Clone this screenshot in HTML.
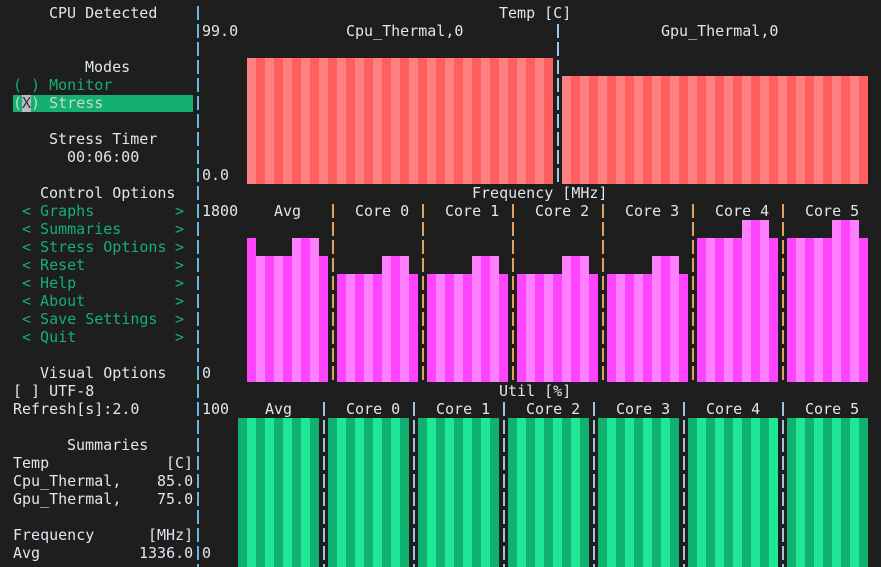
<!DOCTYPE html>
<html><head><meta charset="utf-8">
<style>
html,body{margin:0;padding:0;background:#1e1e1e;width:881px;height:567px;overflow:hidden;position:relative}
.t{position:absolute;font-family:"DejaVu Sans Mono","Liberation Mono",monospace;font-size:15px;line-height:18px;height:18px;white-space:pre;color:#dfe6ee}
.g{color:#13b071}
.b{position:absolute}
</style></head><body>
<div id="root"></div>
<script>
// ---- data ----
const tempSeries = ['Cpu_Thermal,0','Gpu_Thermal,0'];
const tempCpu = Array(34).fill(85);
const tempGpu = Array(34).fill(75);
const tempMax = 99;
const freqCats = ['Avg','Core 0','Core 1','Core 2','Core 3','Core 4','Core 5'];
const freqAvg = [1440,1260,1260,1260,1260,1440,1440,1440,1260];
const freqCore0 = [1080,1080,1080,1080,1080,1260,1260,1260,1080];
const freqCore1 = [1080,1080,1080,1080,1080,1260,1260,1260,1080];
const freqCore2 = [1080,1080,1080,1080,1080,1260,1260,1260,1080];
const freqCore3 = [1080,1080,1080,1080,1080,1260,1260,1260,1080];
const freqCore4 = [1440,1440,1440,1440,1440,1620,1620,1620,1440];
const freqCore5 = [1440,1440,1440,1440,1440,1620,1620,1620,1440];
const freqMax = 1800;
const utilAvg = [100,100,100,100,100,100,100,100,100];
const utilCore0 = [100,100,100,100,100,100,100,100,100];
const utilCore1 = [100,100,100,100,100,100,100,100,100];
const utilCore2 = [100,100,100,100,100,100,100,100,100];
const utilCore3 = [100,100,100,100,100,100,100,100,100];
const utilCore4 = [100,100,100,100,100,100,100,100,100,100];
const utilCore5 = [100,100,100,100,100,100,100,100,100];
const utilMax = 100;

const root = document.getElementById('root');
const X = c => 4 + 9*c, Y = r => 4 + 18*r;
function txt(c, r, s, name, cls, inter){
  const d = document.createElement('div');
  d.className = 't' + (cls ? ' ' + cls : '');
  d.style.left = X(c) + 'px'; d.style.top = Y(r) + 'px';
  d.textContent = s;
  
  
  root.appendChild(d); return d;
}
function rect(x, y, w, h, color, name){
  const d = document.createElement('div');
  d.className = 'b';
  d.style.cssText = `left:${x}px;top:${y}px;width:${w}px;height:${h}px;background:${color}`;
  
  
  root.appendChild(d); return d;
}
function vsep(c, r0, r1, color, name){
  for(let r=r0;r<=r1;r++){
    rect(X(c)+4, Y(r)+2, 1.5, 14, color, name);
  }
}

// left panel
rect(13, Y(5)+1, 180, 17, '#13b071', 'stress-highlight');
txt(5,0,'CPU Detected','cpu-detected');
txt(9,3,'Modes','modes-title');
txt(1,4,'( ) Monitor','monitor-radio','g',true);
txt(1,5,'( ) Stress','stress-radio','',true).style.color='#c8d8d0';
rect(X(2), Y(5)+1, 9, 17, '#b8bcc8', 'stress-x-cursor');
txt(2,5,'X','stress-x').style.color='#333';
txt(5,7,'Stress Timer','stress-timer-title');
txt(7,8,'00:06:00','stress-timer-value');
txt(4,10,'Control Options','control-options-title');
const menu=['Graphs','Summaries','Stress Options','Reset','Help','About','Save Settings','Quit'];
menu.forEach((m,i)=>{
  txt(2,11+i,'< '+m,'menu-'+m.toLowerCase().replace(/ /g,'-'),'g',true);
  txt(19,11+i,'>','menu-arrow','g',false);
});
txt(4,20,'Visual Options','visual-options-title');
txt(1,21,'[ ] UTF-8','utf8-checkbox','',true);
txt(1,22,'Refresh[s]:2.0','refresh-input','',true);
txt(7,24,'Summaries','summaries-title');
txt(1,25,'Temp','summary-temp-label'); txt(18,25,'[C]','summary-temp-unit');
txt(1,26,'Cpu_Thermal,','summary-cpu-label'); txt(17,26,'85.0','summary-cpu-value');
txt(1,27,'Gpu_Thermal,','summary-gpu-label'); txt(17,27,'75.0','summary-gpu-value');
txt(1,29,'Frequency','summary-freq-label'); txt(16,29,'[MHz]','summary-freq-unit');
txt(1,30,'Avg','summary-avg-label'); txt(15,30,'1336.0','summary-avg-value');

// main axis line
vsep(21,0,31,'#6fb4e0','left-axis-line');

// temp graph
txt(55,0,'Temp [C]','temp-title');
txt(22,1,'99.0','temp-y-max'); txt(22,9,'0.0','temp-y-min');
txt(38,1,tempSeries[0],'cpu-thermal-label'); txt(73,1,tempSeries[1],'gpu-thermal-label');
vsep(61,1,9,'#9ccbe8','temp-separator');
function tempBars(vals, c0, name){
  vals.forEach((v,i)=>{
    const h = Math.round(v/tempMax*8)*18;
    rect(X(c0+i), 184-h, 9, h, i%2? '#ff5f5f':'#ff8080', name);
  });
}
tempBars(tempCpu,27,'cpu-temp-bar');
tempBars(tempGpu,62,'gpu-temp-bar');

// freq graph
txt(52,10,'Frequency [MHz]','freq-title');
txt(22,11,'1800','freq-y-max'); txt(22,20,'0','freq-y-min');
const freqLabelCols=[30,39,49,59,69,79,89];
const freqStart=[27,37,47,57,67,77,87];
const freqData=[freqAvg,freqCore0,freqCore1,freqCore2,freqCore3,freqCore4,freqCore5];
freqCats.forEach((c,k)=>{
  txt(freqLabelCols[k],11,c,'freq-label-'+k);
  if(k>0) vsep(freqStart[k]-1,11,20,'#e0a060','freq-separator');
  freqData[k].forEach((v,i)=>{
    const h = Math.round(v/freqMax*10)*18;
    rect(X(freqStart[k]+i), 382-h, 9, h, i%2? '#ff80ff':'#ff44ff', 'freq-bar');
  });
});

// util graph
txt(55,21,'Util [%]','util-title');
txt(22,22,'100','util-y-max'); txt(22,30,'0','util-y-min');
const utilLabelCols=[29,38,48,58,68,78,89];
const utilStart=[26,36,46,56,66,76,87];
const utilData=[utilAvg,utilCore0,utilCore1,utilCore2,utilCore3,utilCore4,utilCore5];
freqCats.forEach((c,k)=>{
  txt(utilLabelCols[k],22,c,'util-label-'+k);
  if(k>0) vsep(utilStart[k]-1,22,31,'#a8c0d8','util-separator');
  utilData[k].forEach((v,i)=>{
    const h = Math.round(v/utilMax*149);
    rect(X(utilStart[k]+i), 567-h, 9, h, i%2? '#1ee896':'#10b070', 'util-bar');
  });
});
</script>
</body></html>
